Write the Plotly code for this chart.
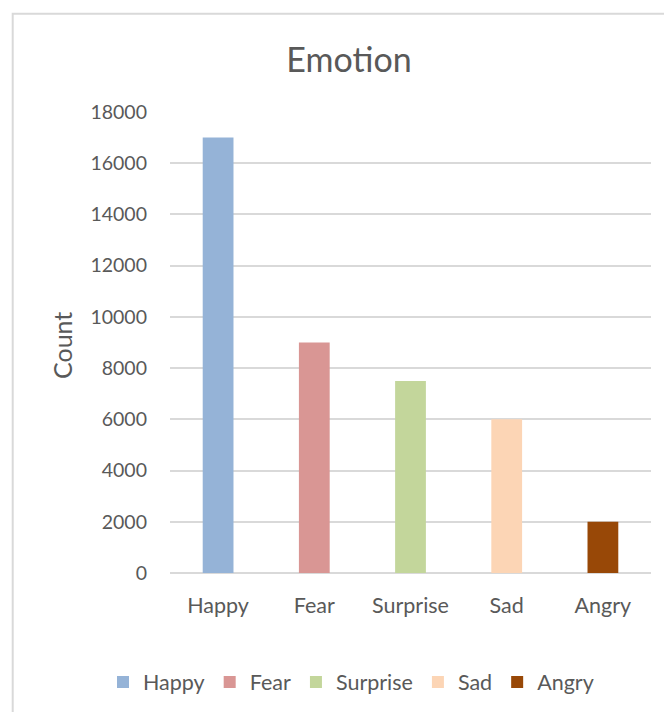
import plotly.graph_objects as go

categories = ["Happy", "Fear", "Surprise", "Sad", "Angry"]
counts = [17000, 9000, 7500, 6000, 2000]
colors = ["#95B3D7", "#D99694", "#C3D69B", "#FCD5B5", "#984807"]
y_ticks = [0, 2000, 4000, 6000, 8000, 10000, 12000, 14000, 16000, 18000]

FONT = "Lato"
TXT = "#595959"
GRID = "#D9D9D9"

fig = go.Figure()
for cat, val, col in zip(categories, counts, colors):
    fig.add_trace(go.Bar(x=[cat], y=[val], name=cat, width=0.32,
                         marker=dict(color=col, line=dict(width=0))))

# page has an 8px body margin, so the figure is laid out 8px up/left
W, H = 664, 704
L, R, T, B = 162, 21, 104, 139
pw, ph = W - L - R, H - T - B

fig.update_layout(
    width=W, height=H,
    margin=dict(l=L, r=R, t=T, b=B, autoexpand=False),
    paper_bgcolor="white", plot_bgcolor="white",
    barmode="overlay",
    font=dict(family=FONT, color=TXT, size=21),
    title=dict(text="Emotion", x=341 / W, xanchor="center", xref="container",
               y=1 - 52 / H, yanchor="middle", yref="container",
               font=dict(family=FONT, size=34, color=TXT)),
    showlegend=True,
    legend=dict(orientation="h", xref="paper", yref="paper",
                x=(95 - L) / pw, xanchor="left",
                y=(H - B - 674) / ph, yanchor="middle",
                font=dict(family=FONT, size=21.5, color=TXT),
                itemwidth=30, traceorder="normal"),
    xaxis=dict(categoryorder="array", categoryarray=categories,
               range=[-0.5, 4.5], showgrid=False, showline=False,
               zeroline=False, ticks="", ticklabelstandoff=17,
               tickfont=dict(family=FONT, size=21.5, color=TXT)),
    yaxis=dict(range=[0, 18000], tickvals=y_ticks,
               ticktext=[str(v) for v in y_ticks],
               showgrid=True, gridcolor=GRID, gridwidth=1.7,
               zeroline=True, zerolinecolor=GRID, zerolinewidth=1.7,
               showline=False, ticks="", ticklabelstandoff=22,
               tickfont=dict(family=FONT, size=19.5, color=TXT)),
    annotations=[dict(text="Count", textangle=-90, xref="paper", yref="paper",
                      x=(54 - L) / pw, y=(H - B - 338) / ph,
                      xanchor="center", yanchor="middle",
                      showarrow=False, font=dict(family=FONT, size=25, color=TXT))],
    shapes=[dict(type="rect", xref="paper", yref="paper",
                 x0=(4.7 - L) / pw, x1=(W + 20 - L) / pw,
                 y0=-(B + 20) / ph, y1=(T + ph - 5.7) / ph,
                 line=dict(color=GRID, width=2), fillcolor="rgba(0,0,0,0)",
                 layer="below")],
)

fig.write_html("out.html")
